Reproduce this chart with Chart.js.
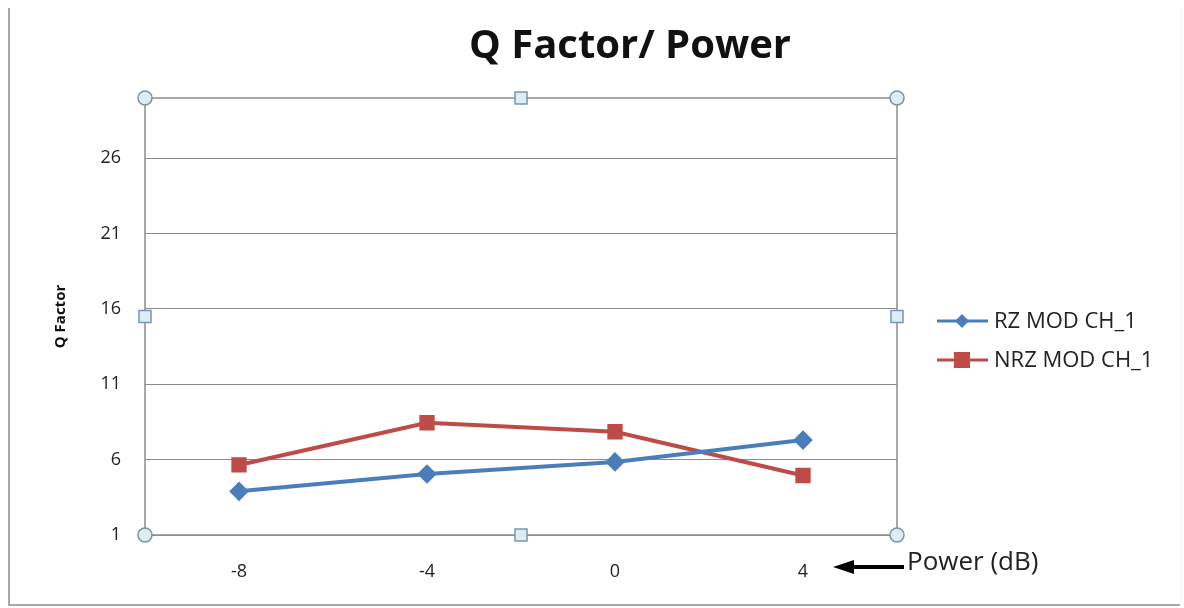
<!DOCTYPE html>
<html>
<head>
<meta charset="utf-8">
<title>Q Factor/ Power</title>
<script src="https://cdn.jsdelivr.net/npm/chart.js@4"></script>
<style>
  html, body { margin: 0; padding: 0; background: #ffffff; }
  #wrap { width: 1184px; height: 608px; }
</style>
</head>
<body>
<div id="wrap"><canvas id="chart" width="1184" height="608"></canvas></div>
<script>
// Power levels (dB) along the x axis
const powerLabels = ['-8', '-4', '0', '4'];
// Q factor per power level
const rzValues  = [3.9, 5.05, 5.85, 7.3];
const nrzValues = [5.65, 8.45, 7.85, 4.95];
// Y axis ticks
const yTickValues = [1, 6, 11, 16, 21, 26];
const yMin = 1;
const yMax = 30;

const chartTitle = 'Q Factor/ Power';
const xAxisNote = 'Power (dB)';
const yAxisTitle = 'Q Factor';

const BLUE = '#4a7ebb';
const RED = '#be4b48';
const FONT = "'Open Sans', 'Liberation Sans', sans-serif";

// Plot frame, selection handles, title, legend and the axis note
const decorations = {
  id: 'decorations',
  beforeDatasetsDraw(chart) {
    const { ctx, chartArea: a } = chart;
    ctx.save();
    ctx.strokeStyle = '#8c8c8c';
    ctx.lineWidth = 1.5;
    ctx.strokeRect(a.left, a.top, a.right - a.left, a.bottom - a.top);
    ctx.restore();
  },
  afterDatasetsDraw(chart) {
    const { ctx, chartArea: a } = chart;
    const midX = (a.left + a.right) / 2;
    const midY = (a.top + a.bottom) / 2;
    ctx.save();
    ctx.fillStyle = '#dcedf3';
    ctx.strokeStyle = '#7f919c';
    ctx.lineWidth = 1.5;
    [[a.left, a.top], [a.right, a.top], [a.left, a.bottom], [a.right, a.bottom]].forEach(([x, y]) => {
      ctx.beginPath();
      ctx.arc(x, y, 7, 0, Math.PI * 2);
      ctx.fill();
      ctx.stroke();
    });
    ctx.strokeStyle = '#7896b0';
    [[midX, a.top], [midX, a.bottom], [a.left, midY], [a.right, midY]].forEach(([x, y]) => {
      ctx.fillRect(x - 6, y - 6, 12, 12);
      ctx.strokeRect(x - 6, y - 6, 12, 12);
    });
    ctx.restore();
  },
  afterDraw(chart) {
    const { ctx } = chart;
    ctx.save();

    // outer chart frame
    ctx.strokeStyle = '#a8a8a8';
    ctx.lineWidth = 2;
    ctx.beginPath();
    ctx.moveTo(9, 8);
    ctx.lineTo(9, 605);
    ctx.lineTo(1180, 605);
    ctx.stroke();
    ctx.strokeStyle = '#ececec';
    ctx.lineWidth = 1;
    ctx.beginPath();
    ctx.moveTo(1181, 8);
    ctx.lineTo(1181, 604);
    ctx.stroke();

    // title
    ctx.fillStyle = '#111111';
    ctx.font = 'bold 40px ' + FONT;
    ctx.textAlign = 'center';
    ctx.textBaseline = 'middle';
    ctx.fillText(chartTitle, 630, 47);

    // legend
    const items = chart.data.datasets;
    ctx.textAlign = 'left';
    ctx.font = '22px ' + FONT;
    items.forEach((ds, i) => {
      const y = 321 + i * 39;
      ctx.strokeStyle = ds.borderColor;
      ctx.lineWidth = 3;
      ctx.beginPath();
      ctx.moveTo(937, y);
      ctx.lineTo(988, y);
      ctx.stroke();
      ctx.fillStyle = ds.pointBackgroundColor;
      if (ds.pointStyle === 'rectRot') {
        ctx.beginPath();
        ctx.moveTo(962, y - 7);
        ctx.lineTo(969, y);
        ctx.lineTo(962, y + 7);
        ctx.lineTo(955, y);
        ctx.closePath();
        ctx.fill();
      } else {
        ctx.fillRect(954, y - 8, 16, 16);
      }
      ctx.fillStyle = '#222222';
      ctx.fillText(ds.label, 994, y + 1);
    });

    // axis note with arrow
    ctx.fillStyle = '#000000';
    ctx.strokeStyle = '#000000';
    ctx.lineWidth = 4;
    ctx.beginPath();
    ctx.moveTo(904, 567);
    ctx.lineTo(848, 567);
    ctx.stroke();
    ctx.beginPath();
    ctx.moveTo(833, 567);
    ctx.lineTo(854, 560);
    ctx.lineTo(854, 574);
    ctx.closePath();
    ctx.fill();
    ctx.font = '26px ' + FONT;
    ctx.fillStyle = '#222222';
    ctx.textBaseline = 'middle';
    ctx.fillText(xAxisNote, 907, 563);

    ctx.restore();
  }
};

new Chart(document.getElementById('chart'), {
  type: 'line',
  data: {
    labels: powerLabels,
    datasets: [
      {
        label: 'RZ MOD CH_1',
        data: rzValues,
        borderColor: BLUE,
        backgroundColor: BLUE,
        pointBackgroundColor: BLUE,
        pointBorderColor: BLUE,
        borderWidth: 4,
        pointStyle: 'rectRot',
        pointRadius: 7,
        tension: 0
      },
      {
        label: 'NRZ MOD CH_1',
        data: nrzValues,
        borderColor: RED,
        backgroundColor: RED,
        pointBackgroundColor: RED,
        pointBorderColor: RED,
        borderWidth: 4,
        pointStyle: 'rect',
        pointRadius: 8,
        tension: 0
      }
    ]
  },
  options: {
    responsive: false,
    animation: false,
    devicePixelRatio: 1,
    layout: { padding: { top: 98, left: 52, right: 287, bottom: 0 } },
    plugins: {
      legend: { display: false },
      title: { display: false },
      tooltip: { enabled: false }
    },
    scales: {
      x: {
        offset: true,
        grid: { display: false, drawTicks: false },
        border: { display: false },
        ticks: { color: '#222222', font: { family: FONT, size: 18 }, padding: 26 },
        afterFit(scale) { scale.height = 73; }
      },
      y: {
        min: yMin,
        max: yMax,
        grid: { color: '#8c8c8c', lineWidth: 1, drawTicks: false },
        border: { display: false },
        ticks: { color: '#222222', font: { family: FONT, size: 18 }, padding: 24 },
        afterBuildTicks(scale) { scale.ticks = yTickValues.map(v => ({ value: v })); },
        afterFit(scale) { scale.width = 93; },
        title: {
          display: true,
          text: yAxisTitle,
          color: '#111111',
          font: { family: FONT, size: 15, weight: 'bold' },
          padding: 0
        }
      }
    }
  },
  plugins: [decorations]
});
</script>
</body>
</html>
